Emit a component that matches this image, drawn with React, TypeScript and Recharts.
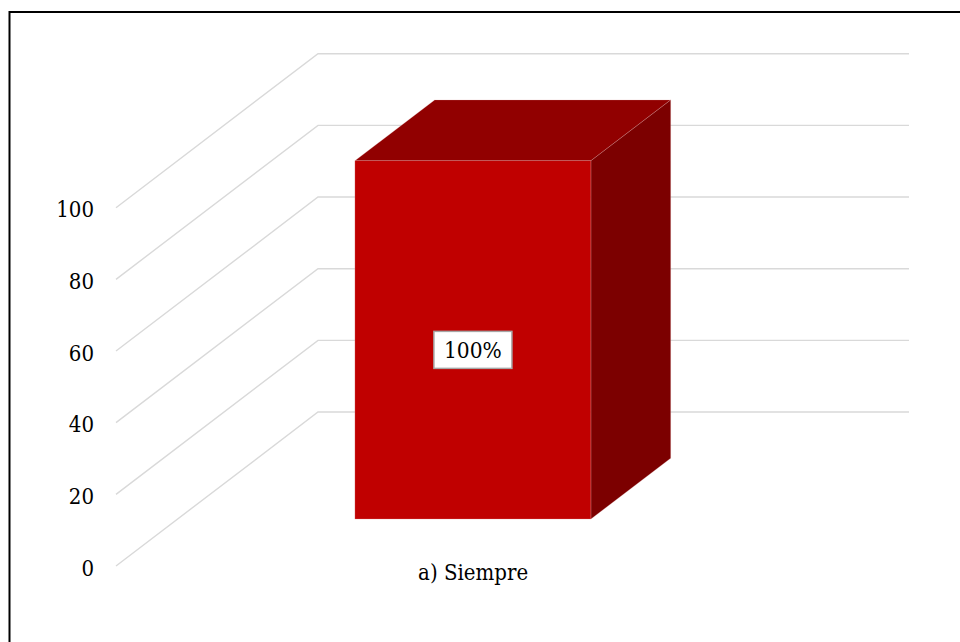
import React from 'react';
import { BarChart, Bar, XAxis, YAxis, CartesianGrid, LabelList } from 'recharts';

const categories = ['a) Siempre'];
const values = [100];
const yTicks = [0, 20, 40, 60, 80, 100];

const data = categories.map((name, i) => ({ name, value: values[i] }));

// fake 3D: depth vector of the floor, bar sits between two depth fractions
const DEPTH = { dx: 202, dy: -154 };
const BAR_FRONT = 0.305;
const BAR_BACK = 0.7;
const FONT = '"DejaVu Serif Condensed", "DejaVu Serif", serif';

const GridLine = (props: any) => {
  const { x1, y1, x2 } = props;
  const d = `M${x1},${y1} L${x1 + DEPTH.dx},${y1 + DEPTH.dy} L${x2 + DEPTH.dx},${y1 + DEPTH.dy}`;
  return <path key={`grid-${y1}`} d={d} fill="none" stroke="#d9d9d9" strokeWidth={1.4} />;
};

const Box3D = (props: any) => {
  const { x, y, width, height } = props;
  const fx = x + DEPTH.dx * BAR_FRONT;
  const fy = y + DEPTH.dy * BAR_FRONT;
  const ddx = DEPTH.dx * (BAR_BACK - BAR_FRONT);
  const ddy = DEPTH.dy * (BAR_BACK - BAR_FRONT);
  const edge = { stroke: '#e6b3b3', strokeWidth: 0.6, strokeOpacity: 0.4 };
  return (
    <g>
      <polygon
        points={`${fx},${fy} ${fx + width},${fy} ${fx + width + ddx},${fy + ddy} ${fx + ddx},${fy + ddy}`}
        fill="#910000"
        {...edge}
      />
      <polygon
        points={`${fx + width},${fy} ${fx + width + ddx},${fy + ddy} ${fx + width + ddx},${fy + height + ddy} ${fx + width},${fy + height}`}
        fill="#7c0000"
        {...edge}
      />
      <rect x={fx} y={fy} width={width} height={height} fill="#c00000" {...edge} />
    </g>
  );
};

const ValueLabel = (props: any) => {
  const { x, y, width, height, value } = props;
  const cx = x + width / 2 + DEPTH.dx * BAR_FRONT;
  const cy = y + height / 2 + DEPTH.dy * BAR_FRONT + 10;
  return (
    <g>
      <rect x={cx - 39} y={cy - 18.5} width={78} height={37} fill="#fff" stroke="#a6a6a6" strokeWidth={1.5} />
      <text x={cx} y={cy + 8} textAnchor="middle" fontFamily={FONT} fontSize={22.5} fill="#000">
        {`${value}%`}
      </text>
    </g>
  );
};

const YTick = (props: any) => {
  const { y, payload } = props;
  return (
    <text x={94} y={y + 9.5} textAnchor="end" fontFamily={FONT} fontSize={22} fill="#000">
      {payload.value}
    </text>
  );
};

const XTick = (props: any) => {
  const { x, payload } = props;
  return (
    <text x={x + DEPTH.dx * BAR_FRONT} y={579.5} textAnchor="middle" fontFamily={FONT} fontSize={22} fill="#000">
      {payload.value}
    </text>
  );
};

export default function App() {
  return (
    <div style={{ position: 'absolute', left: 0, top: 0, width: 960, height: 642, background: '#fff', overflow: 'hidden' }}>
      <svg width={960} height={642} style={{ position: 'absolute', left: 0, top: 0 }}>
        <rect x={9.5} y={12} width={1000} height={700} fill="#fff" stroke="#000" strokeWidth={2} />
      </svg>
      <div style={{ position: 'absolute', left: 0, top: 0 }}>
        <BarChart
          width={960}
          height={642}
          data={data}
          margin={{ top: 207.7, right: 253, bottom: 46, left: 86 }}
          barCategoryGap="30%"
        >
          <CartesianGrid vertical={false} horizontal={GridLine} />
          <XAxis dataKey="name" height={30} axisLine={false} tickLine={false} tick={(p: any) => <XTick {...p} />} interval={0} />
          <YAxis
            width={30}
            domain={[0, 100]}
            ticks={yTicks}
            axisLine={false}
            tickLine={false}
            tick={(p: any) => <YTick {...p} />}
            interval={0}
          />
          <Bar dataKey="value" shape={<Box3D />} isAnimationActive={false}>
            <LabelList dataKey="value" content={<ValueLabel />} />
          </Bar>
        </BarChart>
      </div>
    </div>
  );
}
